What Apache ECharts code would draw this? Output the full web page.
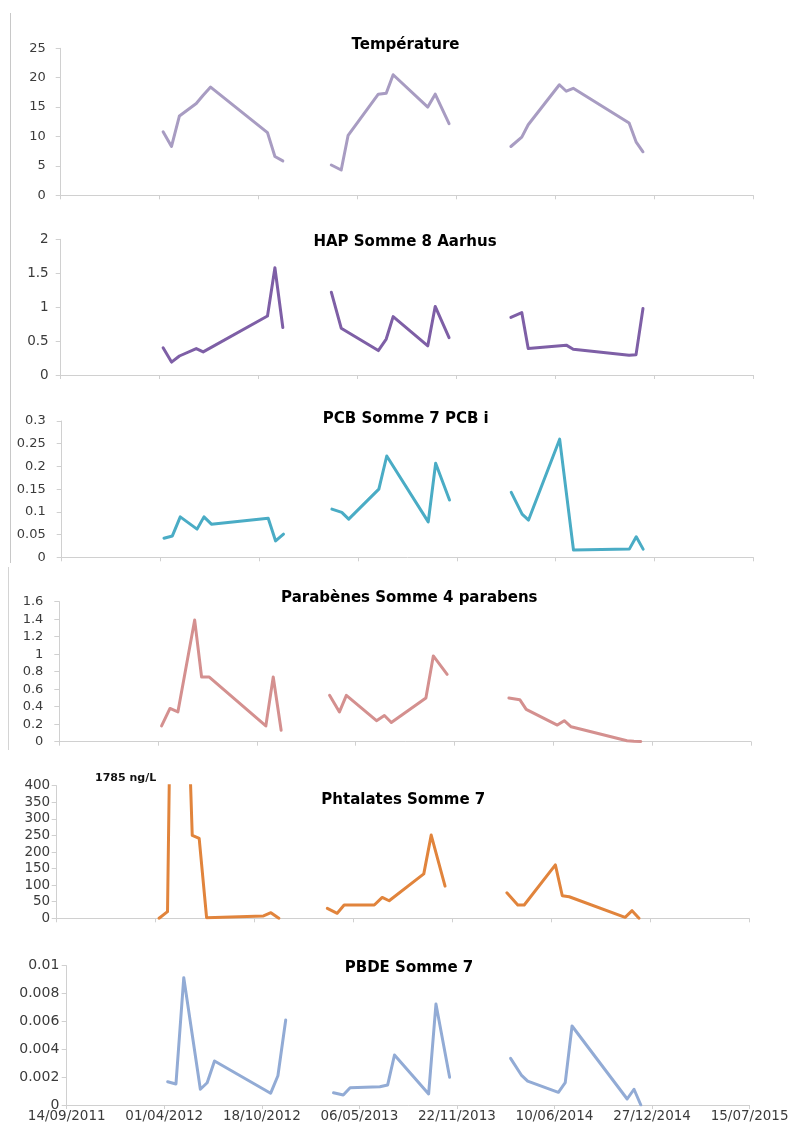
<!DOCTYPE html>
<html><head><meta charset="utf-8">
<script src="https://cdn.jsdelivr.net/npm/echarts@6/dist/echarts.min.js"></script>
<style>html,body{margin:0;padding:0;background:#fff}#c{width:790px;height:1128px}</style>
</head><body><div id="c"></div>
<script>
// ---------- DATA ----------
const axisStart = '2011-09-14';
const axisSpanDays = 1400;
const axisTickDays = 200;

const sampleDates = [
  '2012-04-08','2012-04-25','2012-05-11','2012-06-14','2012-06-28','2012-07-13','2012-11-05','2012-11-20','2012-12-06',
  '2013-03-14','2013-04-03','2013-04-17','2013-06-17','2013-07-03','2013-07-17','2013-09-25','2013-10-10','2013-11-07',
  '2014-03-12','2014-04-03','2014-04-16','2014-06-18','2014-07-02','2014-07-16','2014-11-06','2014-11-20','2014-12-04'
];
// index of the first sample of each yearly campaign (lines are broken between campaigns)
const campaignStarts = [0, 9, 18];

const temperature = [10.8, 8.3, 13.5, 15.6, 17.0, 18.4, 10.65, 6.6, 5.85,
                     5.15, 4.3, 10.2, 17.2, 17.35, 20.5, 15.0, 17.2, 12.2,
                     8.3, 9.9, 12.0, 18.8, 17.7, 18.2, 12.3, 9.1, 7.4];
const hap = [0.40, 0.19, 0.28, 0.39, 0.34, null, 0.87, 1.58, 0.70,
             1.22, 0.69, null, 0.36, 0.53, 0.86, 0.43, 1.01, 0.55,
             0.85, 0.92, 0.39, null, 0.44, 0.38, 0.29, 0.30, 0.98];
const pcb = [0.042, 0.047, 0.089, 0.062, 0.089, 0.073, 0.086, 0.036, 0.051,
             0.106, 0.099, 0.084, 0.150, 0.223, null, 0.078, 0.207, 0.126,
             0.143, 0.095, 0.082, 0.260, null, 0.016, 0.018, 0.045, 0.018];
const parabenes = [0.18, 0.38, 0.34, 1.39, 0.74, 0.74, 0.18, 0.74, 0.13,
                   0.53, 0.34, 0.53, 0.24, 0.30, 0.22, 0.50, 0.98, 0.77,
                   0.50, 0.48, 0.37, 0.19, 0.24, 0.17, 0.01, 0.005, 0.003];
const phtalates = [0, 20, 1785, 250, 241, 2, 7, 17, 0,
                   30, 15, 40, 40, 63, 53, 134, 251, 97,
                   77, 40, 40, 161, 68, 65, 3, 23, 0];
const pbde = [0.00167, 0.00151, 0.00914, 0.00113, 0.0016, 0.00316, 0.00084, 0.0021, 0.0061,
              0.00088, 0.00072, 0.00124, 0.00131, 0.00144, 0.00359, 0.00079, 0.00725, 0.00199,
              0.00335, 0.00215, 0.00172, 0.00091, 0.0016, 0.00567, 0.00043, 0.00113, 0];

const titles = ['Température', 'HAP Somme 8 Aarhus', 'PCB Somme 7 PCB i',
                'Parabènes Somme 4 parabens', 'Phtalates Somme 7', 'PBDE Somme 7'];
const yMaxes = [25, 2, 0.3, 1.6, 400, 0.01];
const yIntervals = [5, 0.5, 0.05, 0.2, 50, 0.002];
const annotationText = '1785 ng/L';

// ---------- HELPERS ----------
const DAY = 86400000;
const t0 = Date.parse(axisStart);
const dayOf = s => Math.round((Date.parse(s) - t0) / DAY);
const fmtDate = d => {
  const dt = new Date(t0 + d * DAY);
  const p = n => String(n).padStart(2, '0');
  return p(dt.getUTCDate()) + '/' + p(dt.getUTCMonth() + 1) + '/' + dt.getUTCFullYear();
};
function segments(values) {
  return campaignStarts.map((start, k) => {
    const end = k + 1 < campaignStarts.length ? campaignStarts[k + 1] : sampleDates.length;
    const seg = [];
    for (let i = start; i < end; i++) {
      if (values[i] != null) seg.push([dayOf(sampleDates[i]), values[i]]);
    }
    return seg;
  });
}

// ---------- STYLE / LAYOUT ----------
const seriesValues = [temperature, hap, pcb, parabenes, phtalates, pbde];
const styles = [
  {color:'#A89CC2', grid:{left:60.7, top:48.3, width:692.6, height:147},   tx:405.5, ty:45.5,  lf:13,   lm:15},
  {color:'#7E5FA6', grid:{left:60.7, top:239.3, width:692.6, height:135.7}, tx:405,   ty:242.3, lf:13.5, lm:12},
  {color:'#4AACC5', grid:{left:61.7, top:421, width:691.6, height:136.3},   tx:405.8, ty:419.3, lf:13,   lm:16},
  {color:'#D4908F', grid:{left:59.3, top:601.7, width:691.7, height:140},   tx:409.3, ty:598.3, lf:13,   lm:16},
  {color:'#E1843C', grid:{left:56.7, top:785.7, width:692.6, height:132.6}, tx:403.3, ty:800,   lf:13.5, lm:6.5},
  {color:'#92ABD5', grid:{left:66.7, top:965.7, width:682.9, height:139.3}, tx:409,   ty:968.3, lf:14,   lm:7.4}
];
const AXIS_COLOR = '#d0d0d0';
const LABEL_COLOR = '#3b3b3b';

const option = {
  animation: false,
  backgroundColor: '#fff',
  title: [], grid: [], xAxis: [], yAxis: [], series: [],
  graphic: [
    {type:'line', shape:{x1:10.5, y1:13, x2:10.5, y2:563}, style:{stroke:'#c8c8c8', lineWidth:1}},
    {type:'line', shape:{x1:8.5, y1:567, x2:8.5, y2:750}, style:{stroke:'#d4d4d4', lineWidth:1}},
    {type:'text', left:95, top:773, style:{text: annotationText, font:'bold 11px "DejaVu Sans"', fill:'#111'}}
  ]
};

styles.forEach((s, i) => {
  const last = i === styles.length - 1;
  option.title.push({
    text: titles[i], left: s.tx, top: s.ty - 9, textAlign: 'center', padding: 0,
    textStyle: {fontFamily: 'DejaVu Sans', fontSize: 15, fontWeight: 'bold', color: '#000', lineHeight: 18}
  });
  option.grid.push(Object.assign({containLabel:false, outerBoundsMode:'none'}, s.grid));
  option.xAxis.push({
    type: 'value', gridIndex: i, min: 0, max: axisSpanDays, interval: axisTickDays,
    splitLine: {show: false},
    axisLine: {show: true, lineStyle: {color: AXIS_COLOR, width: 1}},
    axisTick: {show: true, length: 4, lineStyle: {color: AXIS_COLOR}},
    axisLabel: {
      show: last, formatter: v => fmtDate(v), margin: 4,
      fontFamily: 'DejaVu Sans', fontSize: 13.5, color: LABEL_COLOR,
      showMinLabel: true, showMaxLabel: true, hideOverlap: false
    }
  });
  option.yAxis.push({
    type: 'value', gridIndex: i, min: 0, max: yMaxes[i], interval: yIntervals[i],
    splitLine: {show: false},
    axisLine: {show: true, lineStyle: {color: AXIS_COLOR, width: 1}},
    axisTick: {show: true, length: 5, lineStyle: {color: AXIS_COLOR}},
    axisLabel: {
      fontFamily: 'DejaVu Sans', fontSize: s.lf, color: LABEL_COLOR, margin: s.lm,
      formatter: v => String(parseFloat(v.toFixed(4)))
    }
  });
  segments(seriesValues[i]).forEach(seg => {
    option.series.push({
      type: 'line', xAxisIndex: i, yAxisIndex: i, data: seg,
      showSymbol: false, symbol: 'none', clip: true, silent: true,
      lineStyle: {color: s.color, width: 3, cap: 'round', join: 'round'},
      itemStyle: {color: s.color}
    });
  });
});

const chart = echarts.init(document.getElementById('c'), null, {renderer: 'canvas'});
chart.setOption(option);
</script>
</body></html>
